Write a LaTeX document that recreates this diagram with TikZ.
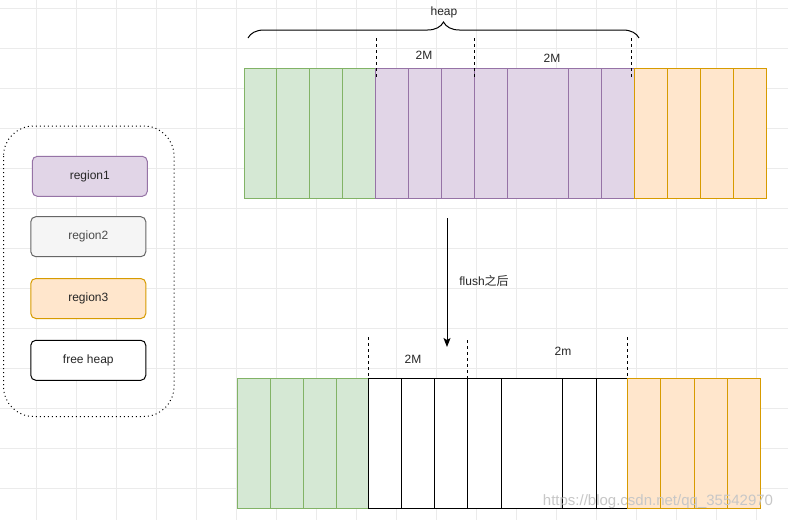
\documentclass[tikz,border=0pt]{standalone}
\usepackage{fontspec}
\setmainfont{Liberation Sans}
\newfontfamily\cjkfont{Noto Sans CJK SC}
\usetikzlibrary{arrows.meta, decorations.pathreplacing}

\definecolor{greenfill}{HTML}{D5E8D4}
\definecolor{greenline}{HTML}{82B366}
\definecolor{purplefill}{HTML}{E1D5E7}
\definecolor{purpleline}{HTML}{9673A6}
\definecolor{orangefill}{HTML}{FFE6CC}
\definecolor{orangeline}{HTML}{D79B00}
\definecolor{grayfill}{HTML}{F5F5F5}
\definecolor{grayline}{HTML}{666666}

\begin{document}
\begin{tikzpicture}[x=1pt, y=-1pt, line width=1pt,
    every node/.style={font=\fontsize{12}{14}\selectfont, text=black!85},
    greencell/.style={draw=greenline, fill=greenfill},
    purplecell/.style={draw=purpleline, fill=purplefill},
    orangecell/.style={draw=orangeline, fill=orangefill},
    graycell/.style={draw=grayline, fill=grayfill},
    freecell/.style={draw=black, fill=white},
    marker/.style={dash pattern=on 3pt off 3pt, line width=0.8pt},
    legendbox/.style={rounded corners=5pt, minimum width=115pt, minimum height=40pt, inner sep=0pt}]

    % Canvas and grid
    \useasboundingbox (0,0) rectangle (788,520);
    \fill[white] (0,0) rectangle (788,520);
    \foreach \x in {36.7,76.7,...,788}
        \draw[black!8, line width=0.6pt] (\x,0) -- (\x,520);
    \foreach \y in {8,48,...,520}
        \draw[black!8, line width=0.6pt] (0,\y) -- (788,\y);

    % Heap before flush
    \foreach \a/\b in {244/276, 276/309, 309/342, 342/375}
        \draw[greencell] (\a,68) rectangle (\b,198);
    \foreach \a/\b in {375/408, 408/441, 441/474, 474/507, 507/568, 568/601, 601/634}
        \draw[purplecell] (\a,68) rectangle (\b,198);
    \foreach \a/\b in {634/667, 667/700, 700/733, 733/766}
        \draw[orangecell] (\a,68) rectangle (\b,198);

    % Heap after flush
    \foreach \a/\b in {237/270, 270/303, 303/336, 336/368}
        \draw[greencell] (\a,378) rectangle (\b,508);
    \foreach \a/\b in {368/401, 401/434, 434/467, 467/501, 501/562, 562/596, 596/627}
        \draw[freecell] (\a,378) rectangle (\b,508);
    \foreach \a/\b in {627/660, 660/694, 694/727, 727/760}
        \draw[orangecell] (\a,378) rectangle (\b,508);

    % Brace over the heap
    \draw[decorate, decoration={brace, amplitude=16pt}] (248,38) -- (639,38);
    \node (heap) at (444,12) {heap};

    % 2M markers
    \foreach \x/\y in {376/38, 474/38, 631.5/38}
        \draw[marker] (\x,\y) -- (\x,78);
    \foreach \x/\y in {368/337, 467/340, 627/337}
        \draw[marker] (\x,\y) -- (\x,378);
    \node (sizeA) at (424,55) {2M};
    \node (sizeB) at (552,58) {2M};
    \node (sizeC) at (413,359) {2M};
    \node (sizeD) at (563,351) {2m};

    % Flush arrow
    \coordinate (flushtop) at (447,218);
    \coordinate (flushbottom) at (447,347);
    \draw[-{Stealth[length=9pt, width=7pt, inset=2pt]}] (flushtop) -- (flushbottom);
    \node (flushlabel) at (484,281) {flush{\cjkfont 之后}};

    % Legend
    \draw[dash pattern=on 1pt off 3pt, rounded corners=30pt] (3.5,126) rectangle (174,416.5);
    \node[legendbox, purplecell] (region1) at (89.8,176.3) {region1};
    \node[legendbox, graycell, text=black!70] (region2) at (88.3,236.7) {region2};
    \node[legendbox, orangecell] (region3) at (88.3,298.5) {region3};
    \node[legendbox, freecell] (freeheap) at (88.3,360.3) {free heap};

    % Watermark
    \node[text=black!22, font=\fontsize{15}{18}\selectfont] (watermark) at (658,502) {https://blog.csdn.net/qq\_35542970};
\end{tikzpicture}
\end{document}
